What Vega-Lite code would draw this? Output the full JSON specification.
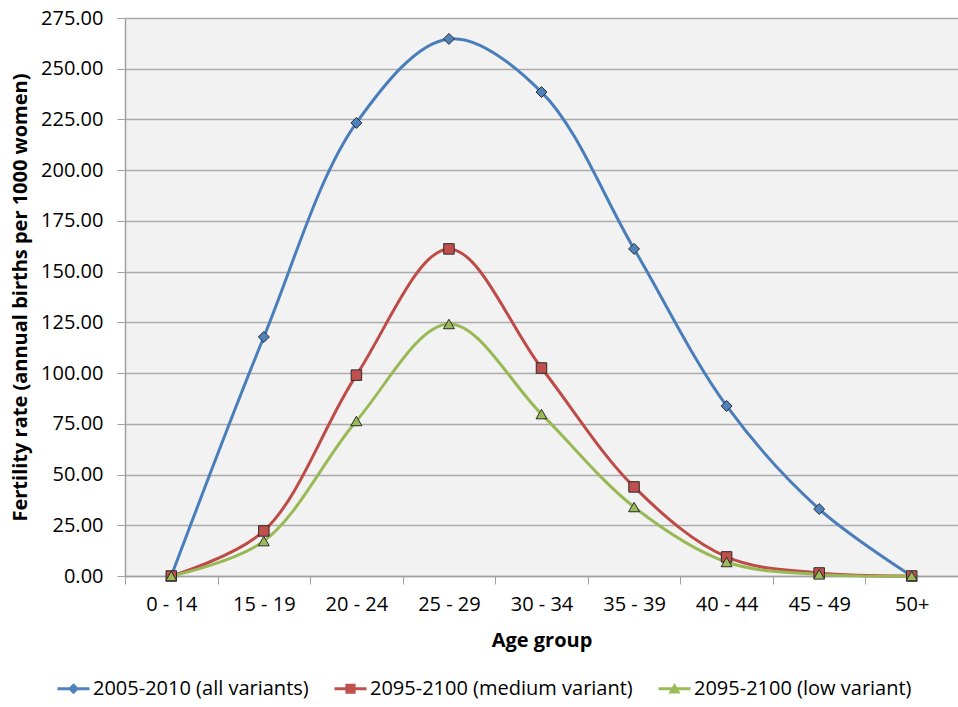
{
  "$schema": "https://vega.github.io/schema/vega-lite/v6.json",
  "width": 833,
  "height": 558,
  "autosize": "none",
  "padding": {"left": 125, "top": 18, "right": 0, "bottom": 131},
  "background": "white",
  "config": {
    "view": {"stroke": null, "fill": "#f2f2f2"},
    "font": "Open Sans",
    "axis": {"labelFont": "Open Sans", "titleFont": "Open Sans", "labelColor": "#000", "titleColor": "#000"}
  },
  "datasets": {
    "main": [
      {"age": "0 - 14", "series": "2005-2010 (all variants)", "value": 0},
      {"age": "15 - 19", "series": "2005-2010 (all variants)", "value": 117.8},
      {"age": "20 - 24", "series": "2005-2010 (all variants)", "value": 223.3},
      {"age": "25 - 29", "series": "2005-2010 (all variants)", "value": 264.7},
      {"age": "30 - 34", "series": "2005-2010 (all variants)", "value": 238.5},
      {"age": "35 - 39", "series": "2005-2010 (all variants)", "value": 161.2},
      {"age": "40 - 44", "series": "2005-2010 (all variants)", "value": 83.8},
      {"age": "45 - 49", "series": "2005-2010 (all variants)", "value": 33},
      {"age": "50+", "series": "2005-2010 (all variants)", "value": 0},
      {"age": "0 - 14", "series": "2095-2100 (medium variant)", "value": 0},
      {"age": "15 - 19", "series": "2095-2100 (medium variant)", "value": 22.2},
      {"age": "20 - 24", "series": "2095-2100 (medium variant)", "value": 99},
      {"age": "25 - 29", "series": "2095-2100 (medium variant)", "value": 161.2},
      {"age": "30 - 34", "series": "2095-2100 (medium variant)", "value": 102.5},
      {"age": "35 - 39", "series": "2095-2100 (medium variant)", "value": 43.9},
      {"age": "40 - 44", "series": "2095-2100 (medium variant)", "value": 9.4},
      {"age": "45 - 49", "series": "2095-2100 (medium variant)", "value": 1.5},
      {"age": "50+", "series": "2095-2100 (medium variant)", "value": 0},
      {"age": "0 - 14", "series": "2095-2100 (low variant)", "value": 0},
      {"age": "15 - 19", "series": "2095-2100 (low variant)", "value": 17.2},
      {"age": "20 - 24", "series": "2095-2100 (low variant)", "value": 76.4},
      {"age": "25 - 29", "series": "2095-2100 (low variant)", "value": 124.2},
      {"age": "30 - 34", "series": "2095-2100 (low variant)", "value": 79.8},
      {"age": "35 - 39", "series": "2095-2100 (low variant)", "value": 34},
      {"age": "40 - 44", "series": "2095-2100 (low variant)", "value": 6.9},
      {"age": "45 - 49", "series": "2095-2100 (low variant)", "value": 0.8},
      {"age": "50+", "series": "2095-2100 (low variant)", "value": 0}
    ]
  },
  "data": {"name": "main"},
  "encoding": {
    "x": {
      "field": "age", "type": "nominal", "sort": null,
      "scale": {"domain": ["0 - 14", "15 - 19", "20 - 24", "25 - 29", "30 - 34", "35 - 39", "40 - 44", "45 - 49", "50+"], "paddingInner": 0, "paddingOuter": 0},
      "axis": {
        "title": "Age group", "titleFontSize": 20, "titleFontWeight": "bold", "titlePadding": 16,
        "labelFontSize": 20, "labelAngle": 0, "labelPadding": 10,
        "tickBand": "extent", "tickSize": 8, "tickColor": "#a0a0a0", "domainColor": "#a0a0a0", "domainWidth": 1.5,
        "grid": false
      }
    },
    "y": {
      "field": "value", "type": "quantitative",
      "scale": {"domain": [0, 275], "nice": false},
      "axis": {
        "title": "Fertility rate (annual births per 1000 women)", "titleFontSize": 20, "titleFontWeight": "bold", "titlePadding": 10,
        "values": [0, 25, 50, 75, 100, 125, 150, 175, 200, 225, 250, 275],
        "format": ".2f", "labelFontSize": 20, "labelPadding": 14,
        "tickSize": 8, "tickColor": "#a0a0a0", "domainColor": "#a0a0a0", "domainWidth": 1.5,
        "grid": true, "gridColor": "#ababab", "gridWidth": 1.5
      }
    }
  },
  "layer": [
    {
      "mark": {"type": "line", "interpolate": "catmull-rom", "strokeWidth": 3},
      "encoding": {
        "stroke": {"field": "series", "type": "nominal", "sort": null,
          "scale": {"domain": ["2005-2010 (all variants)", "2095-2100 (medium variant)", "2095-2100 (low variant)"], "range": ["#4a7ebb", "#be4b48", "#98b954"]},
          "legend": null}
      }
    },
    {
      "transform": [{"filter": {"field": "series", "equal": "2005-2010 (all variants)"}}],
      "mark": {"type": "point", "shape": "diamond", "filled": true, "opacity": 1, "size": 120, "fill": "#4f81bd", "stroke": "#2b2b2b", "strokeWidth": 1}
    },
    {
      "transform": [{"filter": {"field": "series", "equal": "2095-2100 (medium variant)"}}],
      "mark": {"type": "point", "shape": "square", "filled": true, "opacity": 1, "size": 110, "fill": "#c0504d", "stroke": "#2b2b2b", "strokeWidth": 1}
    },
    {
      "transform": [{"filter": {"field": "series", "equal": "2095-2100 (low variant)"}}],
      "mark": {"type": "point", "shape": "triangle-up", "filled": true, "opacity": 1, "size": 120, "fill": "#9bbb59", "stroke": "#2b2b2b", "strokeWidth": 1}
    },
    {
      "mark": {"type": "point", "filled": true, "size": 0},
      "encoding": {
        "color": {"field": "series", "type": "nominal", "sort": null,
          "scale": {"domain": ["2005-2010 (all variants)", "2095-2100 (medium variant)", "2095-2100 (low variant)"], "range": ["#4f81bd", "#c0504d", "#9bbb59"]},
          "legend": {"title": null, "orient": "none", "legendX": -68, "legendY": 654, "direction": "horizontal",
            "symbolSize": 1024, "symbolOpacity": 1, "symbolStrokeColor": "#2b2b2b", "symbolStrokeWidth": 0.8,
            "labelFontSize": 20, "labelFont": "Open Sans", "labelColor": "#000", "labelLimit": 0,
            "columnPadding": 23, "labelOffset": 3, "padding": 0}
        },
        "shape": {"field": "series", "type": "nominal", "sort": null,
          "scale": {"domain": ["2005-2010 (all variants)", "2095-2100 (medium variant)", "2095-2100 (low variant)"],
            "range": [
              "M-1,-0.09H-0.25L0,-0.34L0.25,-0.09H1V0.09H0.25L0,0.34L-0.25,0.09H-1Z",
              "M-1,-0.09H-0.32V-0.32H0.32V-0.09H1V0.09H0.32V0.32H-0.32V0.09H-1Z",
              "M-1,-0.09H-0.155L0,-0.36L0.155,-0.09H1V0.09H0.259L0.38,0.3H-0.38L-0.259,0.09H-1Z"
            ]},
          "legend": {"title": null, "orient": "none", "legendX": -68, "legendY": 654, "direction": "horizontal",
            "symbolSize": 1024, "symbolOpacity": 1, "symbolStrokeColor": "#2b2b2b", "symbolStrokeWidth": 0.8,
            "labelFontSize": 20, "labelFont": "Open Sans", "labelColor": "#000", "labelLimit": 0,
            "columnPadding": 23, "labelOffset": 3, "padding": 0}
        }
      }
    }
  ],
  "resolve": {"scale": {"shape": "independent", "color": "independent"}}
}
